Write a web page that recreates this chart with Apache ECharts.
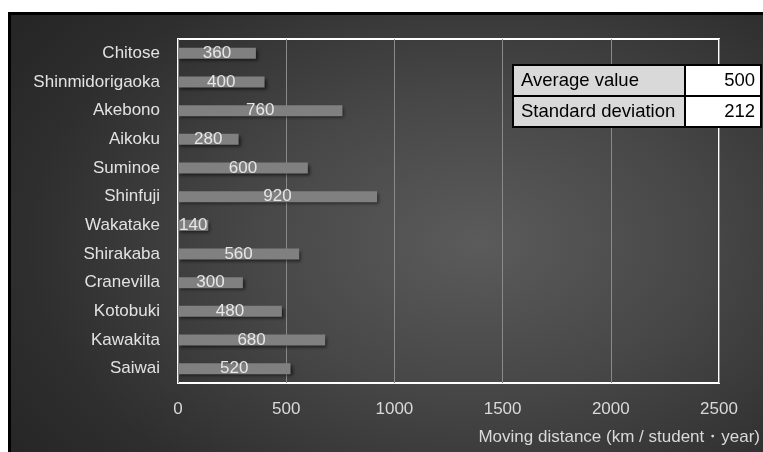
<!DOCTYPE html>
<html>
<head>
<meta charset="utf-8">
<script src="https://cdn.jsdelivr.net/npm/echarts@6/dist/echarts.min.js"></script>
<style>
  html, body { margin: 0; padding: 0; background: #fff; width: 763px; height: 452px; overflow: hidden; }
  #frame { position: absolute; left: 8px; top: 12px; width: 755px; height: 440px; background: #000; }
  #chart {
    position: absolute; left: 11px; top: 15px; width: 752px; height: 437px;
    background: radial-gradient(ellipse 75% 85% at 62% 52%, #5b5b5b 0%, #474747 40%, #2e2e2e 80%, #262626 100%);
  }
</style>
</head>
<body>
<div id="frame"></div>
<div id="chart"></div>
<script>
// School districts and their yearly moving distance per student
const districts = ['Chitose', 'Shinmidorigaoka', 'Akebono', 'Aikoku', 'Suminoe', 'Shinfuji',
  'Wakatake', 'Shirakaba', 'Cranevilla', 'Kotobuki', 'Kawakita', 'Saiwai'];
const distances = [360, 400, 760, 280, 600, 920, 140, 560, 300, 480, 680, 520];
const xTicks = [0, 500, 1000, 1500, 2000, 2500];
const statLabels = ['Average value', 'Standard deviation'];
const statValues = [500, 212];
const axisTitle = 'Moving distance (km / student\u30FByear)';

const FONT = '"Liberation Sans", Arial, sans-serif';
const chart = echarts.init(document.getElementById('chart'), null, { renderer: 'canvas' });

// Summary table in the upper right of the plot
const tbl = { x: 501, y: 49, w: 250, rowH: 31, splitX: 674 };
const tableEls = [{
  type: 'rect', shape: { x: tbl.x, y: tbl.y, width: tbl.w, height: tbl.rowH * statLabels.length + 2 },
  style: { fill: '#000' }, z: 10
}];
statLabels.forEach((lab, i) => {
  const top = tbl.y + 2 + i * tbl.rowH;
  tableEls.push({
    type: 'rect', shape: { x: tbl.x + 2, y: top, width: tbl.splitX - tbl.x - 3, height: tbl.rowH - 2 },
    style: { fill: '#d9d9d9' }, z: 11
  });
  tableEls.push({
    type: 'rect', shape: { x: tbl.splitX + 1, y: top, width: tbl.x + tbl.w - tbl.splitX - 3, height: tbl.rowH - 2 },
    style: { fill: '#fff' }, z: 11
  });
  tableEls.push({
    type: 'text', x: tbl.x + 9, y: top + (tbl.rowH - 2) / 2, z: 12,
    style: { text: lab, font: '18.5px ' + FONT, fill: '#000', textAlign: 'left', textVerticalAlign: 'middle' }
  });
  tableEls.push({
    type: 'text', x: tbl.x + tbl.w - 7, y: top + (tbl.rowH - 2) / 2, z: 12,
    style: { text: String(statValues[i]), font: '18.5px ' + FONT, fill: '#000', textAlign: 'right', textVerticalAlign: 'middle' }
  });
});

chart.setOption({
  backgroundColor: 'transparent',
  animation: false,
  grid: {
    left: 167, top: 24, right: 44, bottom: 69,
    show: true, borderColor: '#ffffff', borderWidth: 2, backgroundColor: 'transparent'
  },
  xAxis: {
    type: 'value', min: xTicks[0], max: xTicks[xTicks.length - 1], interval: 500,
    axisLine: { show: false }, axisTick: { show: false },
    splitLine: { show: true, lineStyle: { color: '#8a8a8a', width: 1 } },
    axisLabel: { color: '#d9d9d9', fontSize: 17, fontFamily: FONT, margin: 18, formatter: v => String(v) }
  },
  yAxis: {
    type: 'category', data: districts, inverse: true,
    axisLine: { show: false }, axisTick: { show: false },
    splitLine: { show: false },
    axisLabel: { color: '#e2e2e2', fontSize: 17, fontFamily: FONT, margin: 18 }
  },
  series: [{
    type: 'bar',
    data: distances,
    barWidth: 11,
    itemStyle: {
      color: '#808080',
      shadowColor: 'rgba(0,0,0,0.55)', shadowBlur: 3, shadowOffsetX: 2, shadowOffsetY: 2
    },
    label: {
      show: true, position: 'inside', color: '#e6e6e6',
      fontSize: 17, fontFamily: FONT
    }
  }],
  graphic: tableEls.concat([{
    type: 'text', x: 749, y: 422, z: 12,
    style: { text: axisTitle, font: '17px ' + FONT, fill: '#d9d9d9', textAlign: 'right', textVerticalAlign: 'middle' }
  }])
});
</script>
</body>
</html>
